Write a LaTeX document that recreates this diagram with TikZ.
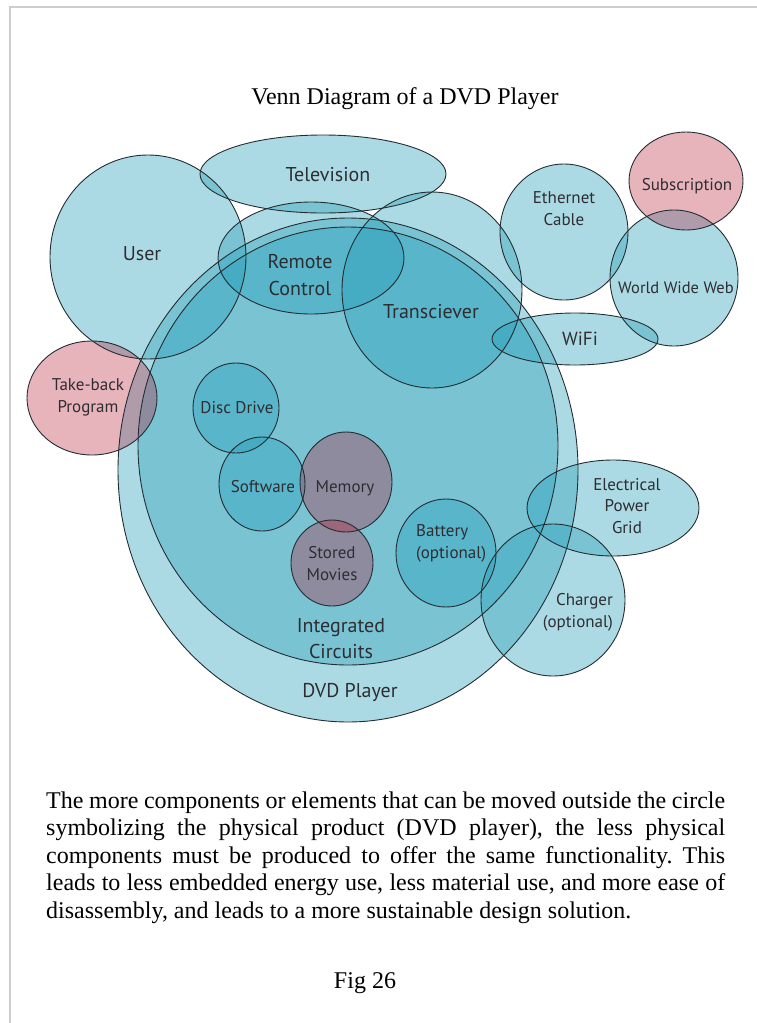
\documentclass[tikz,border=0pt]{standalone}
\usepackage{fontspec}
\setmainfont{Liberation Serif}
\newfontfamily\labelfont{PT Sans}

\definecolor{vblue}{RGB}{37,158,184}
\definecolor{vpink}{RGB}{185,27,52}
\definecolor{vline}{RGB}{35,45,50}
\definecolor{vtext}{RGB}{45,45,50}
\definecolor{pageline}{RGB}{205,205,205}

\tikzset{
  bluefill/.style={fill=vblue, fill opacity=0.38},
  pinkfill/.style={fill=vpink, fill opacity=0.33},
  outline/.style={draw=vline, line width=0.9pt},
  lbl/.style={text=vtext, font=\labelfont\fontsize{17}{21.5}\selectfont, align=center, inner sep=0pt, anchor=base},
  biglbl/.style={lbl, font=\labelfont\fontsize{20}{27}\selectfont},
  serif/.style={text=black, inner sep=0pt, font=\fontsize{24}{27.5}\selectfont\frenchspacing},
}

\begin{document}
\begin{tikzpicture}[x=1pt, y=-1pt]
\path[use as bounding box] (0,0) rectangle (757,1023);
\draw[pageline, line width=1.5pt] (10,1023) -- (10,7) -- (757,7);

% blue fills
\foreach \cx/\cy/\rx/\ry in {
  348/470/230/252, 348/446/210/219, 148/257/98/102, 323/174/123/39,
  311/258/93/56, 432/290/90/98, 564/232/64/68, 674/278/64/68,
  575/339/83/26, 236/408/43/45, 262/484/43/47, 446/553/50/54,
  613/508/86/48, 553/600/72/76}
  \fill[bluefill] (\cx,\cy) ellipse [x radius=\rx pt, y radius=\ry pt];
% pink fills
\foreach \cx/\cy/\rx/\ry in {
  686/181/57/49, 92/398/65/57, 346/482/46/50, 332/563/41/43}
  \fill[pinkfill] (\cx,\cy) ellipse [x radius=\rx pt, y radius=\ry pt];
% outlines
\foreach \cx/\cy/\rx/\ry in {
  348/470/230/252, 348/446/210/219, 148/257/98/102, 323/174/123/39,
  311/258/93/56, 432/290/90/98, 564/232/64/68, 674/278/64/68,
  575/339/83/26, 236/408/43/45, 262/484/43/47, 446/553/50/54,
  613/508/86/48, 553/600/72/76,
  686/181/57/49, 92/398/65/57, 346/482/46/50, 332/563/41/43}
  \draw[outline] (\cx,\cy) ellipse [x radius=\rx pt, y radius=\ry pt];

% labels (anchor = baseline of the last line)
\node[biglbl] (television) at (328,181) {Television};
\node[biglbl] (user) at (142,260) {User};
\node[biglbl] (remote) at (300,295) {Remote\\Control};
\node[biglbl] (trans) at (431,318) {Transciever};
\node[lbl] (ethernet) at (564,225) {Ethernet\\Cable};
\node[lbl] (subscription) at (687,190) {Subscription};
\node[lbl, font=\labelfont\fontsize{16.5}{20}\selectfont] (www) at (676,293) {World Wide Web};
\node[biglbl, font=\labelfont\fontsize{19}{24}\selectfont] (wifi) at (580,345) {WiFi};
\node[lbl] (takeback) at (88,412) {Take-back\\Program};
\node[lbl] (disc) at (237,413) {Disc Drive};
\node[lbl] (software) at (263,492) {Software};
\node[lbl] (memory) at (345,492) {Memory};
\node[lbl] (movies) at (332,580) {Stored\\Movies};
\node[lbl, align=left, anchor=base west] (battery) at (416,558) {Battery\\(optional)};
\node[biglbl, font=\labelfont\fontsize{20}{26}\selectfont] (ic) at (341,658) {Integrated\\Circuits};
\node[biglbl] (dvd) at (350,697) {DVD Player};
\node[lbl] (grid) at (627,533) {Electrical\\Power\\Grid};
\node[lbl, align=right, anchor=base east] (charger) at (613,627) {Charger\\(optional)};

% text
\node[serif, anchor=base] (title) at (405,104) {Venn Diagram of a DVD Player};
\node[serif, anchor=base west, align=left] (para) at (46,918) {%
\makebox[679pt][s]{The more components or elements that can be moved outside the circle}\\
\makebox[679pt][s]{symbolizing the physical product (DVD player), the less physical}\\
\makebox[679pt][s]{components must be produced to offer the same functionality. This}\\
\makebox[679pt][s]{leads to less embedded energy use, less material use, and more ease of}\\
disassembly, and leads to a more sustainable design solution.};
\node[serif, anchor=base] (fig) at (365,988) {Fig 26};
\end{tikzpicture}
\end{document}
